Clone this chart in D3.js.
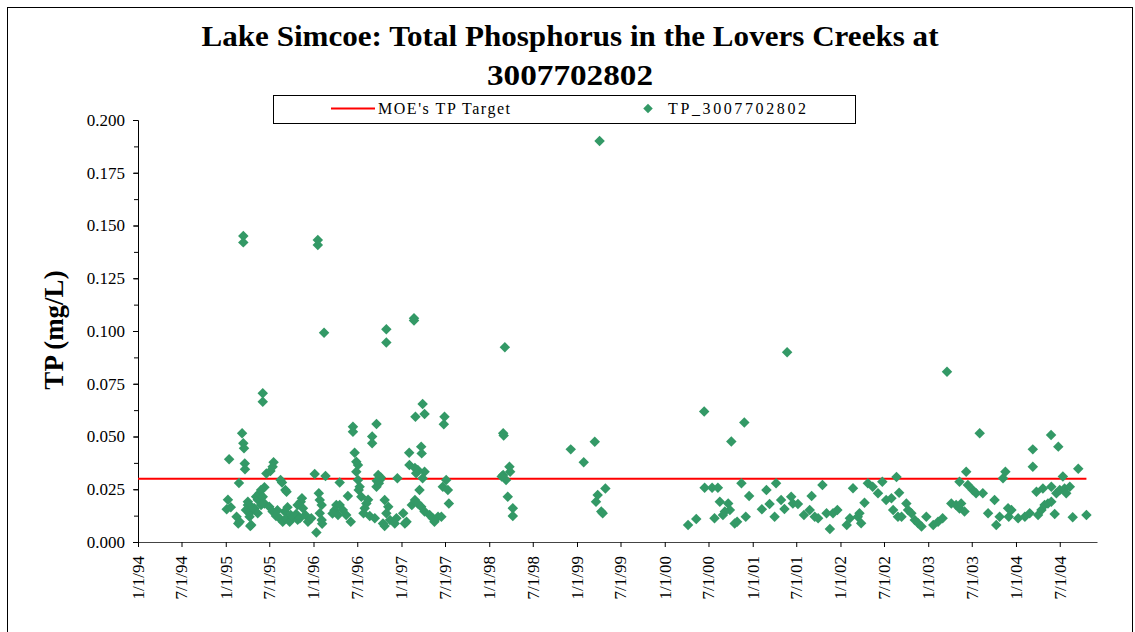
<!DOCTYPE html>
<html>
<head>
<meta charset="utf-8">
<script src="https://cdn.jsdelivr.net/npm/d3@7"></script>
<style>
  html, body { margin: 0; padding: 0; background: #fff; }
  svg text { font-family: "Liberation Serif", "Times New Roman", serif; }
</style>
</head>
<body>
<svg id="chart" width="1135" height="632"></svg>
<script>
// ---------------- DATA ----------------
const chartTitle = ["Lake Simcoe: Total Phosphorus in the Lovers Creeks at", "3007702802"];
const yAxisTitle = "TP (mg/L)";
const legendLabels = ["MOE's TP Target", "TP_3007702802"];
const targetTP = 0.030;
const yTickValues = [0, 0.025, 0.05, 0.075, 0.1, 0.125, 0.15, 0.175, 0.2];
const xTickLabels = ["1/1/94","7/1/94","1/1/95","7/1/95","1/1/96","7/1/96","1/1/97","7/1/97",
  "1/1/98","7/1/98","1/1/99","7/1/99","1/1/00","7/1/00","1/1/01","7/1/01","1/1/02","7/1/02",
  "1/1/03","7/1/03","1/1/04","7/1/04"];
const xDomain = ["1994-01-01", "2004-12-03"];

const sampleDates = [
"1995-01-05","1995-01-10","1995-01-15","1995-01-22","1995-02-15","1995-02-22","1995-02-25","1995-02-28",
"1995-03-10","1995-03-15","1995-03-18","1995-03-15","1995-03-15","1995-03-21","1995-03-22","1995-04-03",
"1995-04-10","1995-04-17","1995-04-13","1995-04-03","1995-03-26","1995-04-24","1995-04-10","1995-04-17",
"1995-05-07","1995-05-14","1995-05-21","1995-05-28","1995-06-11","1995-06-04","1995-04-30","1995-05-14",
"1995-05-28","1995-06-11","1995-06-04","1995-06-04","1995-06-19","1995-07-06","1995-07-19","1995-07-15",
"1995-08-17","1995-08-23","1995-09-06","1995-09-11",
"1995-07-01","1995-07-15","1995-07-29","1995-08-13","1995-08-26","1995-09-03","1995-09-10","1995-09-24",
"1995-09-28","1995-10-07","1995-10-21","1995-10-27","1995-11-05","1995-11-09","1995-11-14","1995-11-18",
"1995-11-28","1995-12-09","1995-12-23","1995-08-04","1995-09-15","1995-10-27",
"1996-01-06","1996-02-20","1996-01-23","1996-01-27","1996-02-04","1996-01-27","1996-02-04","1996-02-06",
"1996-01-13","1996-01-19","1996-01-19","1996-02-14","1996-03-28","1996-04-05","1996-04-12","1996-04-19",
"1996-05-02","1996-05-16","1996-05-23","1996-06-04","1996-03-20","1996-04-19","1996-06-13","1996-06-13",
"1996-06-20","1996-06-27","1996-07-04","1996-06-27","1996-07-04","1996-07-11","1996-07-07","1996-07-18",
"1996-08-08","1996-08-15","1996-08-01","1996-08-22","1996-09-12","1996-07-27","1996-09-01","1996-09-01",
"1996-09-19","1996-09-26","1996-10-03","1996-09-19","1996-09-29","1996-10-07","1996-09-20","1996-10-23",
"1996-11-07","1996-10-30","1996-11-14","1996-10-16","1996-12-11","1996-12-04","1996-10-23","1996-10-30",
"1996-10-30","1996-12-15",
"1997-01-08","1997-01-22","1997-01-15","1997-02-02","1997-02-03","1997-02-13","1997-02-26","1997-03-10",
"1997-03-24","1997-02-22","1997-02-22","1997-02-28","1997-03-30","1997-04-07","1997-02-26","1997-03-10",
"1997-03-03","1997-04-07","1997-03-30","1997-03-17","1997-03-24","1997-03-26","1997-04-07","1997-04-28",
"1997-05-11","1997-05-18","1997-06-02","1997-06-16","1997-06-29","1997-06-26","1997-07-06","1997-06-22",
"1997-07-13","1997-07-17",
"1998-02-28","1998-03-02","1998-03-07","1998-03-26","1998-03-29","1998-02-28","1998-03-12","1998-02-22",
"1998-03-19","1998-04-09","1998-04-09",
"1998-12-06","1999-01-29","1999-03-16","1999-04-05","1999-03-28","1999-03-21","1999-04-29","1999-04-12",
"1999-04-18",
"2000-04-07","2000-05-11","2000-06-13","2000-06-15","2000-07-16","2000-08-09","2000-08-17","2000-09-21",
"2000-09-28","2000-09-07","2000-08-30","2000-07-26","2000-10-04","2000-10-18","2000-10-28","2000-11-15",
"2000-11-27","2000-12-03","2000-12-17",
"2001-02-08","2001-02-27","2001-03-12","2001-04-02","2001-04-08","2001-04-29","2001-05-13","2001-05-24",
"2001-06-10","2001-06-17","2001-07-08","2001-08-02","2001-09-03","2001-08-26","2001-09-16","2001-09-30",
"2001-10-18","2001-11-04","2001-11-18","2001-12-01","2001-12-19",
"2002-01-27","2002-02-09","2002-02-22","2002-03-14","2002-03-21","2002-03-28","2002-04-11","2002-04-25",
"2002-05-15","2002-06-06","2002-06-24","2002-07-10","2002-08-01","2002-08-08","2002-08-22","2002-08-28",
"2002-09-02","2002-09-12","2002-10-02","2002-10-09","2002-10-23","2002-11-06","2002-11-20","2002-12-04",
"2002-12-24",
"2003-01-22","2003-02-11","2003-03-02","2003-03-20","2003-04-07","2003-04-27","2003-05-11","2003-05-18",
"2003-06-01","2003-05-11","2003-06-08","2003-06-15","2003-07-05","2003-07-19","2003-08-03","2003-08-16",
"2003-09-07","2003-10-04","2003-10-11","2003-10-25","2003-11-08","2003-11-18","2003-11-29","2003-12-02",
"2003-12-13",
"2004-01-10","2004-02-07","2004-02-27","2004-03-11","2004-03-11","2004-03-26","2004-04-02","2004-04-16",
"2004-04-22","2004-04-29","2004-05-13","2004-05-27","2004-05-26","2004-05-27","2004-06-10","2004-06-17",
"2004-06-25","2004-07-01","2004-07-14","2004-07-21","2004-07-28","2004-08-12","2004-08-24","2004-09-16",
"2004-10-20"
];

const tpValues = [
0.0155,0.0200,0.0392,0.0165,0.0120,0.0088,0.0280,0.0096,
0.0515,0.0468,0.0444,0.1450,0.1420,0.0372,0.0345,0.0191,
0.0136,0.0167,0.0076,0.0175,0.0152,0.0160,0.0120,0.0081,
0.0215,0.0200,0.0231,0.0246,0.0259,0.0215,0.0160,0.0136,
0.0175,0.0183,0.0705,0.0665,0.0325,0.0336,0.0378,0.0357,
0.0294,0.0282,0.0246,0.0238,
0.0167,0.0144,0.0123,0.0112,0.0096,0.0144,0.0112,0.0096,
0.0128,0.0120,0.0133,0.0105,0.0112,0.0191,0.0207,0.0160,
0.0128,0.0096,0.0112,0.0150,0.0165,0.0175,
0.0322,0.0313,0.0231,0.0199,0.0175,0.0136,0.0104,0.0086,
0.0045,0.1431,0.1408,0.0992,0.0150,0.0175,0.0128,0.0175,
0.0152,0.0128,0.0218,0.0096,0.0135,0.0282,0.0546,0.0523,
0.0423,0.0380,0.0365,0.0333,0.0294,0.0262,0.0246,0.0215,
0.0183,0.0200,0.0160,0.0123,0.0112,0.0136,0.0500,0.0468,
0.0559,0.0318,0.0294,0.0262,0.0278,0.0306,0.0290,0.0199,
0.0167,0.0136,0.0104,0.0088,0.0112,0.0088,0.0076,0.1008,
0.0945,0.0302,
0.0136,0.0096,0.0088,0.0423,0.0365,0.0175,0.0199,0.0183,
0.0167,0.1060,0.1050,0.0594,0.0654,0.0607,0.0351,0.0341,
0.0326,0.0333,0.0302,0.0246,0.0452,0.0420,0.0144,0.0128,
0.0112,0.0096,0.0120,0.0120,0.0594,0.0558,0.0294,0.0262,
0.0246,0.0183,
0.0515,0.0505,0.0923,0.0357,0.0333,0.0318,0.0294,0.0310,
0.0215,0.0160,0.0123,
0.0439,0.0378,0.0475,0.1900,0.0223,0.0191,0.0254,0.0144,
0.0136,
0.0081,0.0109,0.0619,0.0257,0.0257,0.0257,0.0191,0.0183,
0.0152,0.0144,0.0128,0.0112,0.0476,0.0088,0.0096,0.0278,
0.0566,0.0120,0.0218,
0.0155,0.0246,0.0180,0.0120,0.0278,0.0199,0.0156,0.0899,
0.0215,0.0183,0.0180,0.0128,0.0218,0.0152,0.0120,0.0112,
0.0270,0.0136,0.0062,0.0136,0.0152,
0.0081,0.0112,0.0255,0.0120,0.0136,0.0089,0.0186,0.0278,
0.0262,0.0231,0.0286,0.0199,0.0207,0.0152,0.0308,0.0120,
0.0233,0.0120,0.0183,0.0152,0.0136,0.0104,0.0089,0.0073,
0.0120,
0.0081,0.0096,0.0112,0.0807,0.0183,0.0175,0.0159,0.0183,
0.0144,0.0286,0.0333,0.0270,0.0246,0.0231,0.0515,0.0231,
0.0136,0.0199,0.0081,0.0120,0.0302,0.0333,0.0160,0.0120,
0.0152,
0.0112,0.0120,0.0136,0.0439,0.0357,0.0238,0.0128,0.0152,
0.0254,0.0175,0.0183,0.0191,0.0507,0.0262,0.0133,0.0231,
0.0452,0.0246,0.0310,0.0254,0.0231,0.0262,0.0117,0.0347,
0.0128
];

// ---------------- DRAW ----------------
const parseISO = d3.timeParse("%Y-%m-%d");
const parseTick = d3.timeParse("%m/%d/%y");
const points = sampleDates.map((d, i) => ({ date: parseISO(d), value: tpValues[i] }));

const svg = d3.select("#chart");
const GREEN = "#339966";

const x = d3.scaleTime().domain(xDomain.map(parseISO)).range([138, 1097]);
const y = d3.scaleLinear().domain([0, 0.2]).range([542, 120]);

// outer frame
svg.append("rect").attr("x", 7.5).attr("y", 7.5).attr("width", 1125).attr("height", 640)
  .attr("fill", "none").attr("stroke", "#000").attr("stroke-width", 1);

// title
const titleWidths = [737, 166];
svg.append("g").selectAll("text").data(chartTitle).join("text")
  .attr("x", 570).attr("y", (d, i) => 46 + i * 39)
  .attr("text-anchor", "middle").attr("font-size", 30).attr("font-weight", "bold")
  .attr("textLength", (d, i) => titleWidths[i]).attr("lengthAdjust", "spacingAndGlyphs")
  .text(d => d);

// legend
const lg = svg.append("g");
lg.append("rect").attr("x", 273.5).attr("y", 95.5).attr("width", 582).attr("height", 28)
  .attr("fill", "#fff").attr("stroke", "#000").attr("stroke-width", 1);
lg.append("line").attr("x1", 331).attr("x2", 375).attr("y1", 108.5).attr("y2", 108.5)
  .attr("stroke", "#ff0000").attr("stroke-width", 2);
lg.append("text").attr("x", 378).attr("y", 114).attr("font-size", 16)
  .attr("textLength", 132).attr("lengthAdjust", "spacing").text(legendLabels[0]);
lg.append("path").attr("d", d3.symbol(d3.symbolSquare, 45)())
  .attr("transform", "translate(648,108.5) rotate(45)").attr("fill", GREEN);
lg.append("text").attr("x", 668).attr("y", 114).attr("font-size", 16)
  .attr("textLength", 138).attr("lengthAdjust", "spacing").text(legendLabels[1]);

// y axis
const yMinor = d3.range(0, 0.2001, 0.0125);
svg.append("g").attr("transform", "translate(138,0)")
  .call(d3.axisLeft(y).tickValues(yMinor).tickFormat("").tickSize(4).tickSizeOuter(0))
  .call(g => g.selectAll("line,path").attr("stroke", "#000"));
const yAxisG = svg.append("g").attr("transform", "translate(138,0)")
  .call(d3.axisLeft(y).tickValues(yTickValues).tickFormat(d3.format(".3f")).tickSize(5).tickSizeOuter(0).tickPadding(8));
yAxisG.selectAll("text").attr("font-size", 17).attr("font-family", "Liberation Serif").attr("fill", "#000");
yAxisG.selectAll("line,path").attr("stroke", "#000");

// y axis title
svg.append("text").attr("transform", "translate(63,330) rotate(-90)")
  .attr("text-anchor", "middle").attr("font-size", 27).attr("font-weight", "bold").text(yAxisTitle);

// x axis
const xTickDates = xTickLabels.map(parseTick);
const xAxisG = svg.append("g").attr("transform", "translate(0,542)")
  .call(d3.axisBottom(x).tickValues(xTickDates).tickFormat((d, i) => xTickLabels[i]).tickSize(5).tickSizeOuter(0));
xAxisG.select(".domain").attr("stroke", "#444");
xAxisG.selectAll("line").attr("stroke", "#000");
xAxisG.selectAll("text")
  .attr("font-size", 17).attr("font-family", "Liberation Serif").attr("fill", "#000")
  .attr("transform", "rotate(-90)").attr("x", -14).attr("y", 0).attr("dy", "0.32em")
  .style("text-anchor", "end");

// target line
const lastDate = d3.max(points, d => d.date);
svg.append("line")
  .attr("x1", x(parseISO(xDomain[0]))).attr("x2", x(lastDate))
  .attr("y1", y(targetTP)).attr("y2", y(targetTP))
  .attr("stroke", "#ff0000").attr("stroke-width", 2);

// points
svg.append("g").selectAll("path").data(points).join("path")
  .attr("d", d3.symbol(d3.symbolSquare, 55)())
  .attr("transform", d => `translate(${x(d.date)},${y(d.value)}) rotate(45)`)
  .attr("fill", GREEN);
</script>
</body>
</html>
